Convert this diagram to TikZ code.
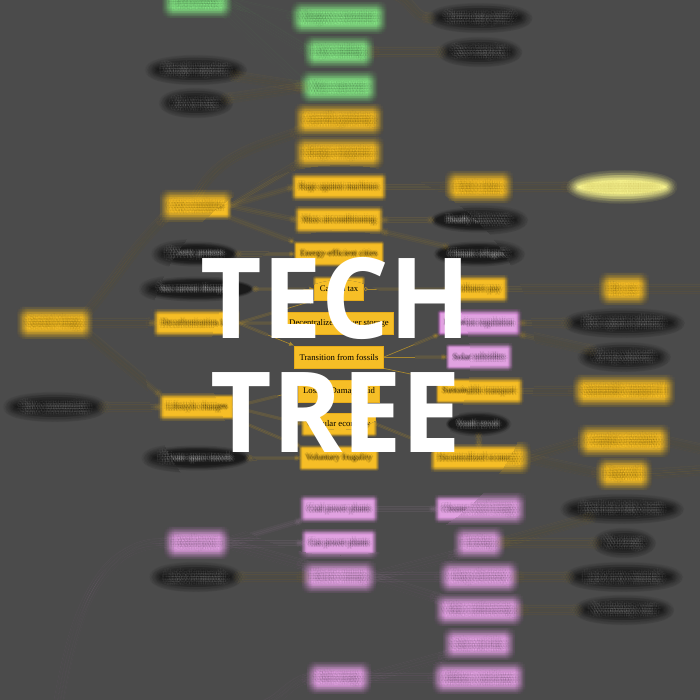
\documentclass[tikz,border=0pt]{standalone}
\usepackage{fontspec}
\setmainfont{Liberation Serif}
\newfontfamily\titlefont{Open Sans}
\usetikzlibrary{shapes.geometric,arrows.meta}

\definecolor{bgc}{HTML}{4B4B4B}
\definecolor{ybg}{HTML}{F6BE26}
\definecolor{yedge}{HTML}{E6AC1C}
\definecolor{pbg}{HTML}{E1A2E1}
\definecolor{pedge}{HTML}{C877CC}
\definecolor{pedgeb}{HTML}{C659CC}
\definecolor{gbg}{HTML}{86E386}
\definecolor{gedge}{HTML}{70D070}
\definecolor{ebg}{HTML}{1A1A1A}
\definecolor{lbg}{HTML}{F4F08C}
\definecolor{ltxt}{HTML}{B8A040}
\definecolor{ylink}{HTML}{A8872E}
\definecolor{glink}{HTML}{5F8F5F}
\definecolor{plink}{HTML}{9C7E9C}

\tikzset{
  lbl/.style={font=\fontsize{8.7}{10}\selectfont},
  boxbase/.style={lbl, rectangle, minimum height=22pt, inner xsep=5pt, inner ysep=2pt, line width=0.8pt, text=black},
  ybox/.style={boxbase, fill=ybg, draw=yedge},
  pbox/.style={boxbase, fill=pbg, draw=pedge},
  gbox/.style={boxbase, fill=gbg, draw=gedge},
  evt/.style={lbl, ellipse, fill=ebg, text=white, inner xsep=0pt, inner ysep=0pt, minimum height=20pt},
  goal/.style={lbl, ellipse, fill=lbg, text=ltxt, inner xsep=0pt, inner ysep=0pt, minimum height=24pt},
  tipend/.style={-{Latex[length=5pt,width=4.5pt]}},
  plain/.style={draw=ylink, line width=0.7pt},
  link/.style={plain, tipend},
  olink/.style={plain, {Circle[open,length=4pt,width=4pt]}-{Latex[length=5pt,width=4.5pt]}},
  dlink/.style={plain, {Diamond[open,length=6pt,width=4.5pt]}-{Latex[length=5pt,width=4.5pt]}},
  glk/.style={draw=glink, line width=0.7pt, tipend},
  plk/.style={draw=plink, line width=0.7pt, tipend},
  title/.style={font=\titlefont\bfseries\fontsize{112}{114}\selectfont, text=white, anchor=base, inner sep=0pt},
}

% The whole tree: background, nodes and connectors.
\newcommand\drawtree{%
\fill[bgc] (-30,-30) rectangle (730,730);
% adaptation branch (green)
\node[gbox] (g0) at (197,2) {Flood barriers};
\node[gbox] (g1) at (339,18) {Mangrove restoration};
\node[gbox] (g2) at (339,52) {Dyke building};
\node[gbox] (g3) at (339,87) {Water reservoirs};
% events
\node[evt] (e1) at (196,70) {Drought migration};
\node[evt] (e2) at (196,103) {Oil war fears};
\node[evt] (e3) at (480,18) {Storm surge panic?};
\node[evt] (e4) at (480,52) {Seas rising fast};
\node[goal] (e5) at (622,187) {Eco-tech civilisation};
\node[evt] (e6) at (478,220) {Deadly heatwaves};
\node[evt] (e7) at (478,254) {Climate refugees};
\node[evt] (e8) at (196,254) {Poverty protests};
\node[evt] (e9) at (198,289) {Sea current disruption};
\node[evt] (e10) at (624,323) {Riots against pollution};
\node[evt] (e11) at (624,357) {Oil rig explosion};
\node[evt] (e12) at (55,407) {Slow consumerism};
\node[evt] (e13) at (197,458) {Private space travels};
\node[evt] (e14) at (478,424) {Youth revolt};
\node[evt] (e15) at (196,577) {Lack of minerals};
\node[evt] (e16) at (622,509) {Fossil fuel lobby boom};
\node[evt] (e17) at (624,543) {No storage};
\node[evt] (e18) at (624,577) {Lack of raw materials};
\node[evt] (e19) at (624,610) {No drinking water};
% societal branch (yellow)
\node[ybox] (y1) at (339,120) {Guerrilla gardening};
\node[ybox] (y2) at (339,153) {Refugee integration};
\node[ybox] (y3) at (339,187) {Rage against machines};
\node[ybox] (y4) at (339,220) {Mass airconditioning};
\node[ybox] (y5) at (339,254) {Energy-efficient cities};
\node[ybox] (y6) at (339,289) {Carbon tax};
\node[ybox] (y7) at (339,323) {Decentralized power storage};
\node[ybox] (y8) at (339,357) {Transition from fossils};
\node[ybox] (y9) at (339,391) {Loss \& Damage Aid};
\node[ybox] (y10) at (339,424) {Circular economy};
\node[ybox] (y11) at (339,458) {Voluntary frugality};
\node[ybox] (y12) at (197,206) {Civic incubator};
\node[ybox] (y13) at (55,323) {Societal change};
\node[ybox] (y14) at (197,323) {Decarbonisation law};
\node[ybox] (y15) at (197,407) {Lifestyle changes};
\node[ybox] (y16) at (479,187) {Tribal culture};
\node[ybox] (y17) at (478,289) {Polluters pay};
\node[ybox] (y18) at (479,391) {Sustainable transport};
\node[ybox] (y19) at (479,458) {Decentralized economy};
\node[ybox] (y20) at (624,289) {Bio-cars};
\node[ybox] (y21) at (624,391) {Sustainable transport II};
\node[ybox] (y22) at (624,441) {Complete circularity};
\node[ybox] (y23) at (624,474) {Degrowth};
% energy branch (pink)
\node[pbox, draw=pedgeb] (p1) at (479,323) {Pollution regulation};
\node[pbox] (p2) at (479,357) {Solar subsidies};
\node[pbox] (p3) at (197,543) {Fossil power};
\node[pbox] (p4) at (339,509) {Coal power plants};
\node[pbox] (p5) at (339,543) {Gas power plants};
\node[pbox] (p6) at (339,577) {Electric mining};
\node[pbox] (p7) at (479,509) {Cleaner fossil energy};
\node[pbox] (p8) at (479,543) {Fracking};
\node[pbox] (p9) at (479,577) {Cheap electricity};
\node[pbox] (p10) at (479,610) {Video conferencing};
\node[pbox] (p11) at (479,644) {Solar roof tiles};
\node[pbox] (p12) at (479,678) {Offshore wind farms};
\node[pbox] (p13) at (339,678) {Solar energy};
% loose ends leaving the sheet
\coordinate (top) at (392,-6);
\coordinate (r1) at (706,289);
\coordinate (r2) at (706,450);
\coordinate (r3) at (706,470);
\coordinate (bl) at (58,706);
\coordinate (bm) at (262,706);
% connectors
\draw[glk] (g0.east) -- (g1.west);
\draw[glk] (g0.east) -- (g2.west);
\draw[glk] (g0.south east) -- (g3.west);
\draw[olink] (e1) -- (g3.west);
\draw[olink] (e2) -- (g3.west);
\draw[link] (top) to[out=-10,in=180] (e3.west);
\draw[olink] (e4) -- (g2.east);
\draw[link] (y12.north) to[out=60,in=200] (y1.south west);
\draw[link] (y12.east) -- (y2.south west);
\draw[link] (y12.east) -- (y3.west);
\draw[link] (y12.east) -- (y4.west);
\draw[link] (y12.south east) -- (y5.north west);
\draw[link] (y13.north east) to[out=50,in=225] (y12.south west);
\draw[link] (y13.east) -- (y14.west);
\draw[link] (y13.south east) -- (y15.north west);
\draw[link] (y3.east) -- (y16.west);
\draw[link] (y16.east) -- (e5.west);
\draw[olink] (e6) -- (y4.east);
\draw[olink] (e7) -- (y4.south east);
\draw[olink] (e8) -- (y5.west);
\draw[dlink] (e9) -- (y6.west);
\draw[olink] (y6) -- (y17.west);
\draw[link] (y14.east) -- (y6.south west);
\draw[link] (y14.east) -- (y7.west);
\draw[link] (y14.east) -- (y8.north west);
\draw[link] (y17.east) -- (y20.west);
\draw[plain] (y20.east) -- (r1);
\draw[olink] (e10) -- (p1.east);
\draw[olink] (e11) -- (p1.south east);
\draw[link] (y8.east) -- (p1.south west);
\draw[link] (y8.east) -- (p2.west);
\draw[link] (y8.south east) -- (y18.north west);
\draw[link] (y18.east) -- (y21.west);
\draw[olink] (e12) -- (y15.west);
\draw[link] (y15.east) -- (y9.west);
\draw[link] (y15.east) -- (y10.west);
\draw[link] (y15.south east) -- (y11.north west);
\draw[olink] (e13) -- (y11.west);
\draw[link] (y10.east) -- (y19.north west);
\draw[olink] (e14) -- (y19.north);
\draw[link] (y19.east) -- (y22.west);
\draw[link] (y19.east) -- (y23.west);
\draw[plain] (y22.east) -- (r2);
\draw[plain] (y23.east) -- (r3);
\draw[plk] (bl) to[out=80,in=180] (p3.west);
\draw[plk] (p3.east) -- (p4.south west);
\draw[plk] (p3.east) -- (p5.west);
\draw[plk] (p3.east) -- (p6.north west);
\draw[olink] (e15) -- (p6.west);
\draw[plk] (p4.east) -- (p7.west);
\draw[plk] (p6.east) -- (p8.south west);
\draw[plk] (p6.east) -- (p9.west);
\draw[plk] (p6.east) -- (p10.north west);
\draw[olink] (e16) -- (p8.east);
\draw[olink] (e17) -- (p8.east);
\draw[olink] (e18) -- (p9.east);
\draw[olink] (e19) -- (p10.east);
\draw[plk] (bm) to[out=20,in=190] (p13.west);
\draw[plk] (p13.east) -- (p11.south west);
\draw[plk] (p13.east) -- (p12.west);
}

% Soft focus: the tree is laid down several times, slightly shifted,
% each copy averaged in (copy k at opacity 1/k).  #1 = spread radius,
% #2 = macro holding angle/fraction sample offsets.
\newcommand\softtree[2]{%
  \foreach \ang/\fr [count=\k] in #2 {%
    \pgfmathsetmacro\op{1/\k}%
    \pgfmathsetmacro\rr{\fr*#1}%
    \begin{scope}[shift={(\ang:\rr)}, transparency group, opacity=\op]
      \drawtree
    \end{scope}
  }%
}
\def\widesamples{0/0, 0/0.5, 60/0.5, 120/0.5, 180/0.5, 240/0.5, 300/0.5,
  0/1, 30/1, 60/1, 90/1, 120/1, 150/1, 180/1, 210/1, 240/1, 270/1, 300/1, 330/1}
\def\midsamples{0/0, 45/0.5, 135/0.5, 225/0.5, 315/0.5, 0/1, 60/1, 120/1, 180/1, 240/1, 300/1}
\def\narrowsamples{0/0, 30/1, 90/1, 150/1, 210/1, 270/1, 330/1}

\begin{document}
\begin{tikzpicture}[x=1pt,y=-1pt]
\useasboundingbox (0,0) rectangle (700,700);
\clip (0,0) rectangle (700,700);

% outer ring: strongest softening
\softtree{5.2}{\widesamples}
% middle ring
\begin{scope}
  \clip (340,360) circle [radius=195pt];
  \softtree{2.8}{\midsamples}
\end{scope}
% inner ring
\begin{scope}
  \clip (340,360) circle [radius=130pt];
  \softtree{1.4}{\narrowsamples}
\end{scope}
% sharp centre
\begin{scope}
  \clip (340,355) circle [radius=75pt];
  \drawtree
\end{scope}

% title lettering
\begin{scope}[shift={(336,338)}, xscale=0.95]
  \node[title, transform shape] (t1) at (0,0) {TECH};
\end{scope}
\begin{scope}[shift={(336,452)}, xscale=0.95]
  \node[title, transform shape] (t2) at (0,0) {TREE};
\end{scope}
\end{tikzpicture}
\end{document}
